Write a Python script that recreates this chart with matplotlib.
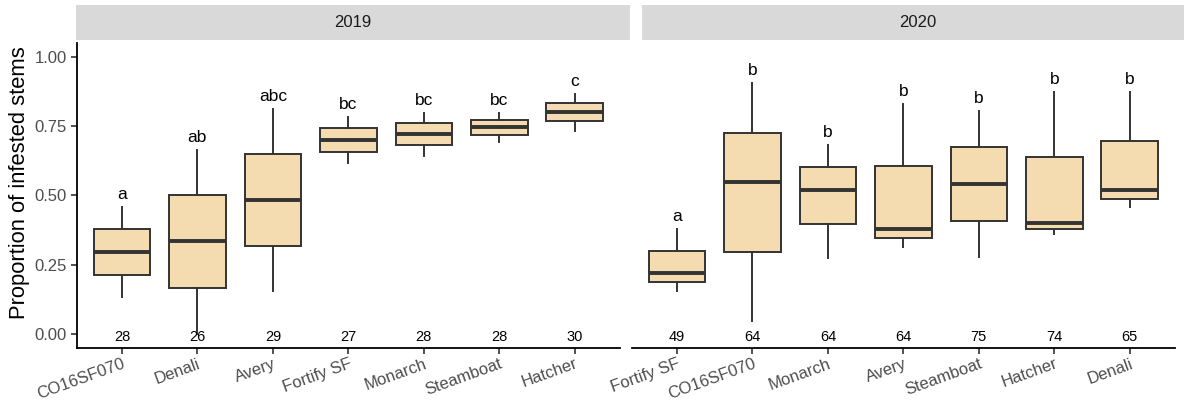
import matplotlib
matplotlib.use("Agg")
import matplotlib.pyplot as plt
from matplotlib.patches import Rectangle

plt.rcParams['font.family'] = ['Liberation Sans', 'DejaVu Sans']

# ---------------- data ----------------
years = ["2019", "2020"]

cat_2019 = ["CO16SF070", "Denali", "Avery", "Fortify SF", "Monarch", "Steamboat", "Hatcher"]
lo_2019 = [0.134, 0.000, 0.153, 0.615, 0.642, 0.692, 0.733]
q1_2019 = [0.214, 0.166, 0.317, 0.657, 0.681, 0.718, 0.766]
med_2019 = [0.296, 0.334, 0.483, 0.700, 0.722, 0.746, 0.800]
q3_2019 = [0.378, 0.501, 0.647, 0.742, 0.760, 0.773, 0.832]
hi_2019 = [0.459, 0.664, 0.810, 0.783, 0.797, 0.797, 0.865]
letters_2019 = ["a", "ab", "abc", "bc", "bc", "bc", "c"]
n_2019 = [28, 26, 29, 27, 28, 28, 30]

cat_2020 = ["Fortify SF", "CO16SF070", "Monarch", "Avery", "Steamboat", "Hatcher", "Denali"]
lo_2020 = [0.156, 0.045, 0.272, 0.314, 0.278, 0.360, 0.459]
q1_2020 = [0.186, 0.296, 0.395, 0.346, 0.408, 0.377, 0.486]
med_2020 = [0.220, 0.546, 0.520, 0.378, 0.540, 0.400, 0.517]
q3_2020 = [0.300, 0.726, 0.601, 0.606, 0.674, 0.636, 0.695]
hi_2020 = [0.378, 0.906, 0.681, 0.829, 0.804, 0.873, 0.873]
letters_2020 = ["a", "b", "b", "b", "b", "b", "b"]
n_2020 = [49, 64, 64, 64, 75, 74, 65]

y_ticks = [0.00, 0.25, 0.50, 0.75, 1.00]
y_label = "Proportion of infested stems"

panels = [
    (cat_2019, lo_2019, q1_2019, med_2019, q3_2019, hi_2019, letters_2019, n_2019),
    (cat_2020, lo_2020, q1_2020, med_2020, q3_2020, hi_2020, letters_2020, n_2020),
]

# ---------------- figure ----------------
W, H = 1184, 404
fig = plt.figure(figsize=(W / 100, H / 100), dpi=100)

FILL = "#F5DBB0"
EDGE = "#333333"
TICKC = "#4D4D4D"

ax_px = [(76.7, 620.0), (631.7, 1175.0)]
ax_top, ax_bot = 42.7, 347.7
strip_px = [(76.0, 630.0), (641.7, 1194.0)]
strip_top, strip_bot = 5.0, 39.5

for i, (cats, lo, q1, med, q3, hi, letters, ns) in enumerate(panels):
    x0, x1 = ax_px[i]
    ax = fig.add_axes([x0 / W, (H - ax_bot) / H, (x1 - x0) / W, (ax_bot - ax_top) / H])
    stats = []
    for j in range(len(cats)):
        stats.append(dict(med=med[j], q1=q1[j], q3=q3[j], whislo=lo[j], whishi=hi[j], fliers=[]))
    pos = list(range(len(cats)))
    ax.bxp(stats, positions=pos, widths=0.75, patch_artist=True, showcaps=False,
           showfliers=False,
           boxprops=dict(facecolor=FILL, edgecolor=EDGE, linewidth=1.4),
           whiskerprops=dict(color=EDGE, linewidth=1.4),
           medianprops=dict(color=EDGE, linewidth=2.8, solid_capstyle='butt'))
    for j in range(len(cats)):
        ax.text(pos[j], hi[j] + 0.028, letters[j], ha='center', va='baseline',
                fontsize=12.5, color='black')
        ax.text(pos[j], -0.012, str(ns[j]), ha='center', va='center',
                fontsize=10.5, color='black')
    ax.set_xlim(-0.6, len(cats) - 0.4)
    ax.set_ylim(-0.05, 1.05)
    ax.set_xticks(pos)
    ax.set_xticklabels(cats, rotation=20, ha='right', va='top', rotation_mode='anchor',
                       fontsize=12, color=TICKC)
    ax.tick_params(axis='x', length=4, width=1.2, color=EDGE, pad=2)
    for s in ['top', 'right']:
        ax.spines[s].set_visible(False)
    ax.spines['bottom'].set_linewidth(1.3)
    ax.spines['bottom'].set_color('black')
    if i == 0:
        ax.set_yticks(y_ticks)
        ax.set_yticklabels([f"{v:.2f}" for v in y_ticks], fontsize=12, color=TICKC)
        ax.tick_params(axis='y', length=4, width=1.2, color=EDGE, pad=3)
        ax.spines['left'].set_linewidth(1.3)
        ax.spines['left'].set_color('black')
    else:
        ax.spines['left'].set_visible(False)
        ax.set_yticks([])
    ax.set_facecolor('white')

    # strip
    s0, s1 = strip_px[i]
    fig.patches.append(Rectangle((s0 / W, (H - strip_bot) / H), (s1 - s0) / W,
                                 (strip_bot - strip_top) / H, transform=fig.transFigure,
                                 facecolor="#D9D9D9", edgecolor='none', zorder=0))
    fig.text(((s0 + s1) / 2) / W, (H - (strip_top + strip_bot) / 2) / H, years[i],
             ha='center', va='center', fontsize=12, color="#1A1A1A")

fig.text(20 / W, (H - 183) / H, y_label, rotation=90, ha='center', va='center',
         fontsize=15.8, color='black')

fig.savefig("out.png", dpi=100, facecolor='white')
